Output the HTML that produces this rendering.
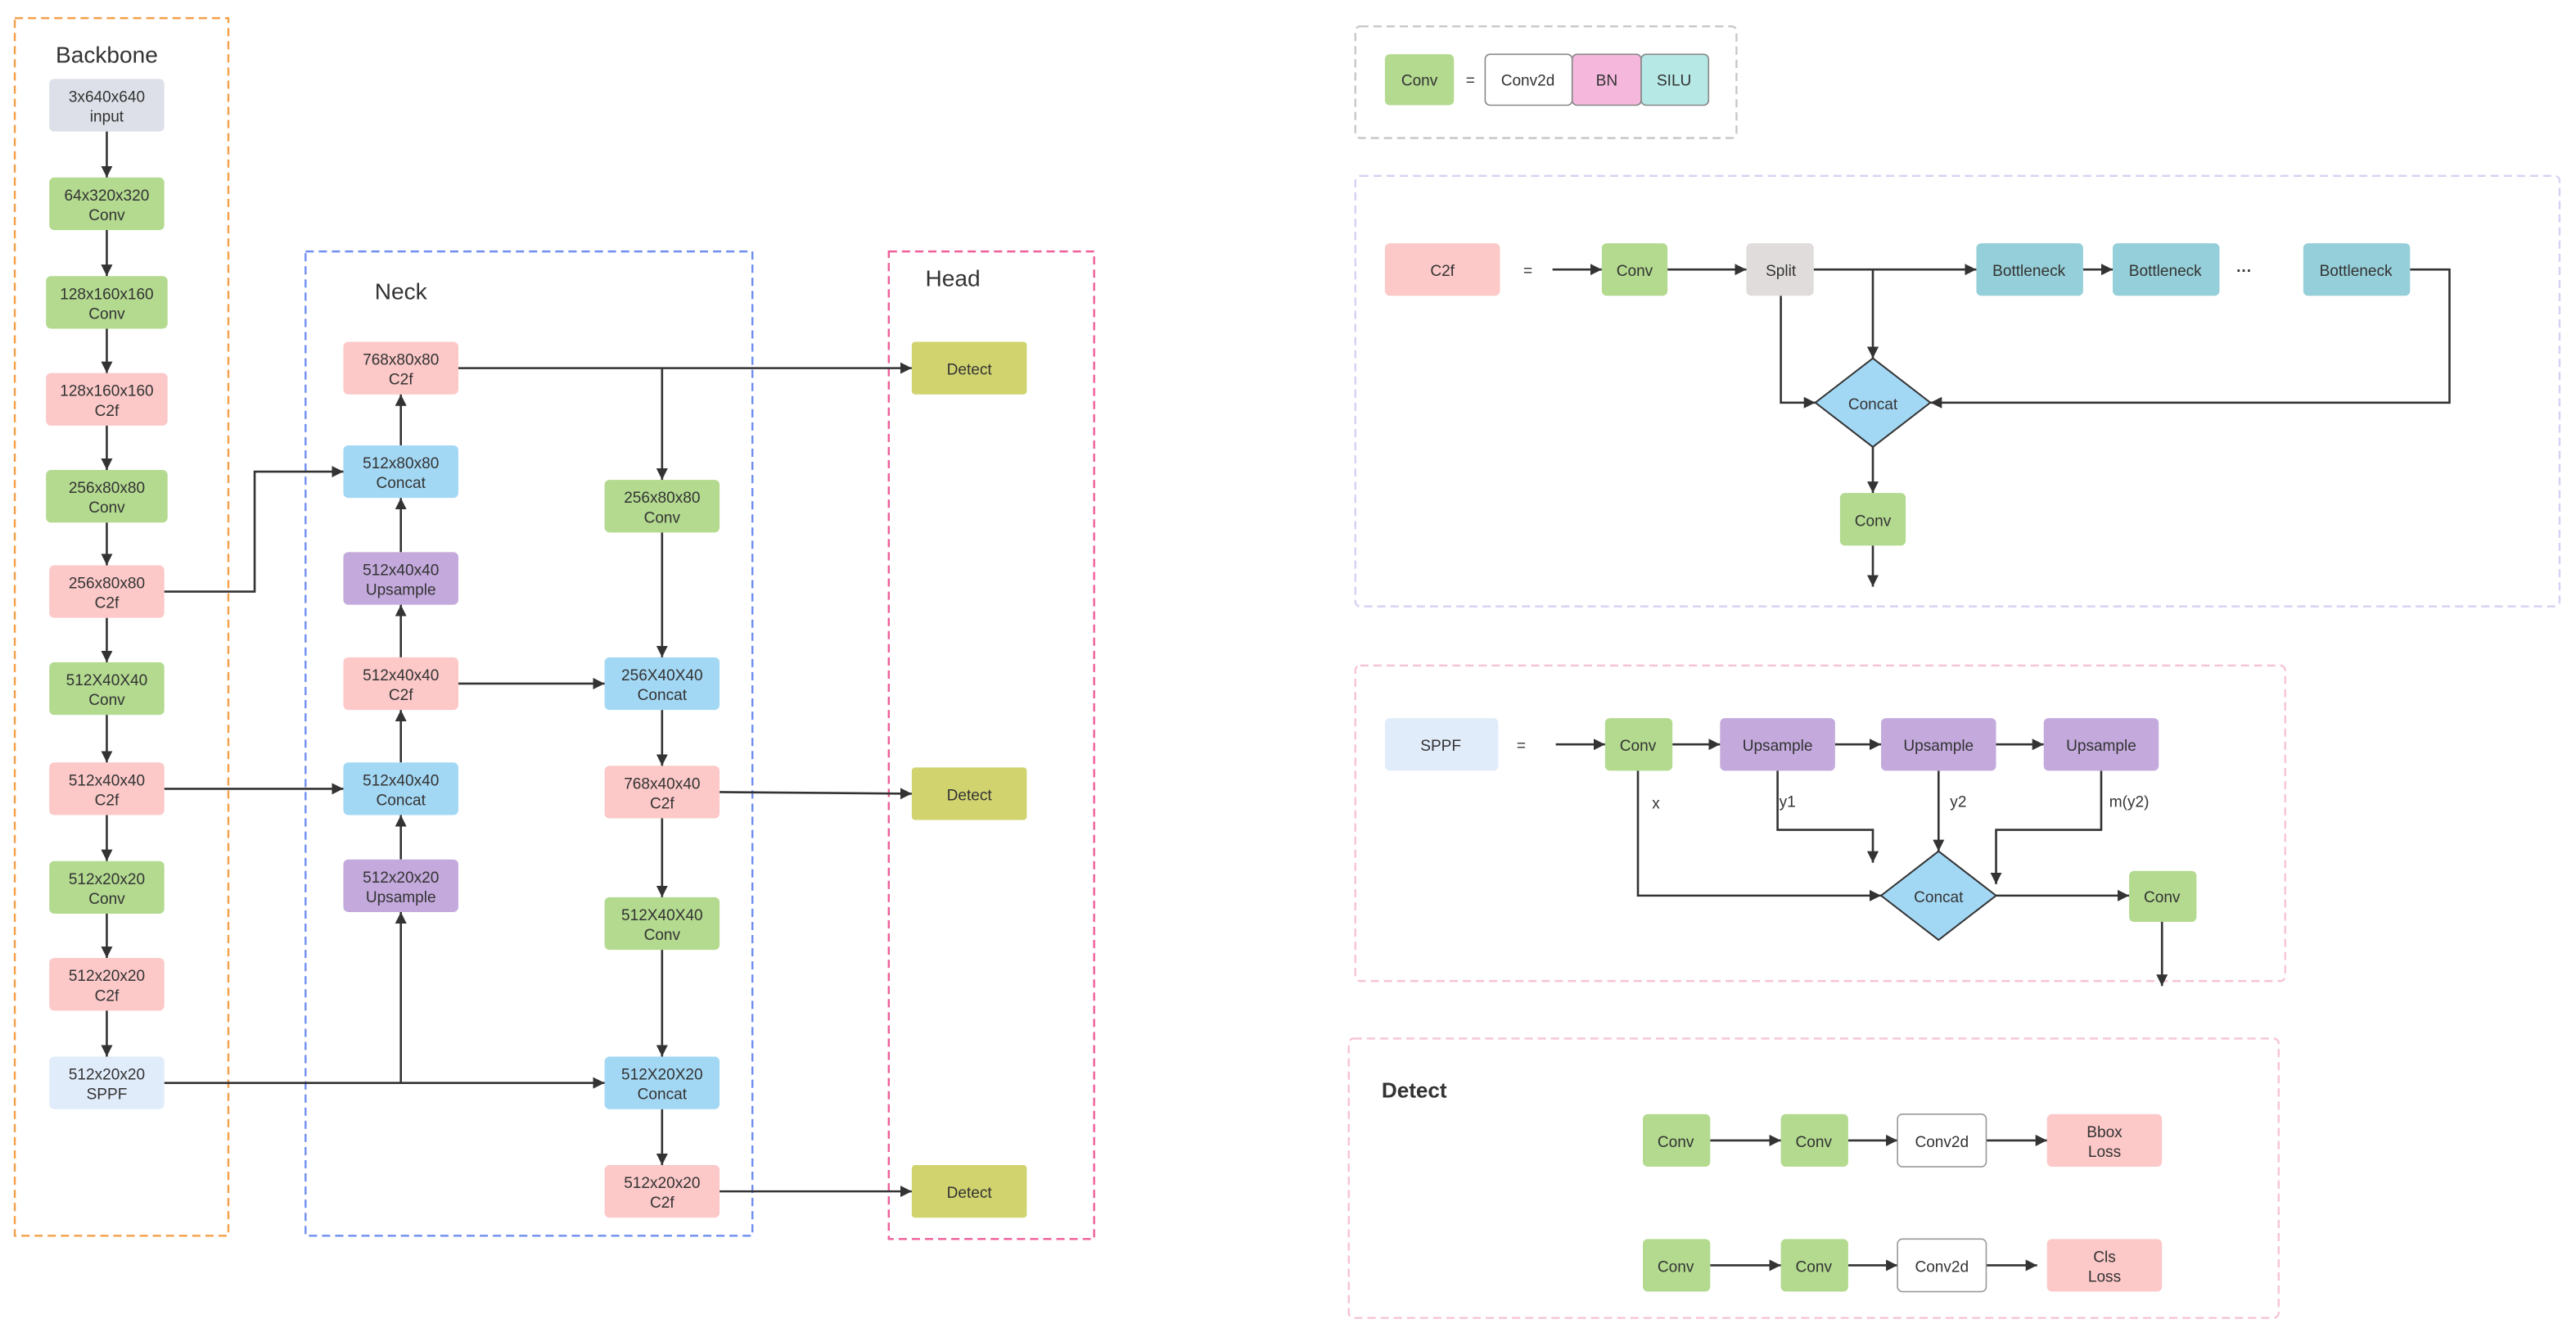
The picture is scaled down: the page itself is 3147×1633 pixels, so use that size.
<!DOCTYPE html>
<html><head><meta charset="utf-8"><style>
html,body{margin:0;padding:0;background:#fff;}
svg{display:block;}
text{font-family:"Liberation Sans",sans-serif;fill:#333;}
.t{font-size:9.5px;text-anchor:middle;}
.e{stroke:#333;stroke-width:1.3;fill:none;}
</style></head><body>
<svg width="3147" height="1633" viewBox="0 0 1568 813.6" xmlns="http://www.w3.org/2000/svg">
<defs><marker id="a" viewBox="0 0 10 10" refX="10" refY="5" markerWidth="7" markerHeight="7" markerUnits="userSpaceOnUse" orient="auto"><path d="M0,0L10,5L0,10z" fill="#333"/></marker></defs>
<g fill="none" stroke-width="1.2" stroke-dasharray="5,3">
<rect x="9" y="11" width="130" height="741" stroke="#f4a04a"/>
<rect x="186" y="153" width="272" height="599" stroke="#6f8ef0"/>
<rect x="541" y="153" width="125" height="601" stroke="#ee5f9a"/>
<rect x="825" y="16" width="232" height="68" stroke="#c8c8c8" rx="3"/>
<rect x="825" y="107" width="733" height="262" stroke="#d6d2f4" rx="3"/>
<rect x="825" y="405" width="566" height="192" stroke="#f7c4d6" rx="3"/>
<rect x="821" y="632" width="566" height="170" stroke="#f7c4d6" rx="3"/>
</g>
<text x="65" y="38" style="font-size:14px" text-anchor="middle">Backbone</text>
<text x="244" y="182" style="font-size:14px" text-anchor="middle">Neck</text>
<text x="580" y="174" style="font-size:14px" text-anchor="middle">Head</text>
<text x="841" y="668" style="font-size:13px;font-weight:bold">Detect</text>

<g class="e" marker-end="url(#a)">
<line x1="65" y1="80" x2="65" y2="108"/><line x1="65" y1="140" x2="65" y2="168"/><line x1="65" y1="200" x2="65" y2="227"/>
<line x1="65" y1="259" x2="65" y2="286"/><line x1="65" y1="318" x2="65" y2="344"/><line x1="65" y1="376" x2="65" y2="403"/>
<line x1="65" y1="435" x2="65" y2="464"/><line x1="65" y1="496" x2="65" y2="524"/><line x1="65" y1="556" x2="65" y2="583"/>
<line x1="65" y1="615" x2="65" y2="643"/>
<polyline points="100,360 155,360 155,287 209,287"/>
<line x1="100" y1="480" x2="209" y2="480"/>
<line x1="100" y1="659" x2="368" y2="659"/>
<polyline points="244,659 244,555"/>
<line x1="244" y1="523" x2="244" y2="496"/><line x1="244" y1="464" x2="244" y2="432"/>
<line x1="244" y1="400" x2="244" y2="368"/><line x1="244" y1="336" x2="244" y2="303"/>
<line x1="244" y1="271" x2="244" y2="240"/>
<line x1="279" y1="416" x2="368" y2="416"/>
<line x1="279" y1="224" x2="555" y2="224"/>
<line x1="403" y1="224" x2="403" y2="292"/>
<line x1="403" y1="324" x2="403" y2="400"/><line x1="403" y1="432" x2="403" y2="466"/>
<line x1="438" y1="482" x2="555" y2="483"/>
<line x1="403" y1="498" x2="403" y2="546"/><line x1="403" y1="578" x2="403" y2="643"/>
<line x1="403" y1="675" x2="403" y2="709"/><line x1="438" y1="725" x2="555" y2="725"/>
<!-- C2f -->
<line x1="945" y1="164" x2="975" y2="164"/><line x1="1015" y1="164" x2="1063" y2="164"/>
<line x1="1104" y1="164" x2="1203" y2="164"/><line x1="1268" y1="164" x2="1286" y2="164"/>
<line x1="1140" y1="164" x2="1140" y2="218"/>
<polyline points="1084,180 1084,245 1105,245"/>
<polyline points="1467,164 1491,164 1491,245 1175,245"/>
<line x1="1140" y1="272" x2="1140" y2="300"/><line x1="1140" y1="332" x2="1140" y2="357"/>
<!-- SPPF -->
<line x1="947" y1="453" x2="977" y2="453"/><line x1="1018" y1="453" x2="1047" y2="453"/>
<line x1="1117" y1="453" x2="1145" y2="453"/><line x1="1215" y1="453" x2="1244" y2="453"/>
<polyline points="997,469 997,545 1145,545"/>
<polyline points="1082,469 1082,505 1140,505 1140,525"/>
<line x1="1180" y1="469" x2="1180" y2="518"/>
<polyline points="1279,469 1279,505 1215,505 1215,538"/>
<line x1="1215" y1="545" x2="1296" y2="545"/>
<line x1="1316" y1="561" x2="1316" y2="600"/>
<!-- Detect -->
<line x1="1041" y1="694" x2="1084" y2="694"/><line x1="1125" y1="694" x2="1155" y2="694"/><line x1="1209" y1="694" x2="1246" y2="694"/>
<line x1="1041" y1="770" x2="1084" y2="770"/><line x1="1125" y1="770" x2="1155" y2="770"/><line x1="1209" y1="770" x2="1240" y2="770"/>
</g>

<g>
<!-- backbone -->
<rect x="30" y="48" width="70" height="32" rx="3" fill="#dde0e8"/><text class="t" x="65" y="62">3x640x640</text><text class="t" x="65" y="74">input</text>
<rect x="30" y="108" width="70" height="32" rx="3" fill="#b3da8f"/><text class="t" x="65" y="122">64x320x320</text><text class="t" x="65" y="134">Conv</text>
<rect x="28" y="168" width="74" height="32" rx="3" fill="#b3da8f"/><text class="t" x="65" y="182">128x160x160</text><text class="t" x="65" y="194">Conv</text>
<rect x="28" y="227" width="74" height="32" rx="3" fill="#fcc8c8"/><text class="t" x="65" y="241">128x160x160</text><text class="t" x="65" y="253">C2f</text>
<rect x="28" y="286" width="74" height="32" rx="3" fill="#b3da8f"/><text class="t" x="65" y="300">256x80x80</text><text class="t" x="65" y="312">Conv</text>
<rect x="30" y="344" width="70" height="32" rx="3" fill="#fcc8c8"/><text class="t" x="65" y="358">256x80x80</text><text class="t" x="65" y="370">C2f</text>
<rect x="30" y="403" width="70" height="32" rx="3" fill="#b3da8f"/><text class="t" x="65" y="417">512X40X40</text><text class="t" x="65" y="429">Conv</text>
<rect x="30" y="464" width="70" height="32" rx="3" fill="#fcc8c8"/><text class="t" x="65" y="478">512x40x40</text><text class="t" x="65" y="490">C2f</text>
<rect x="30" y="524" width="70" height="32" rx="3" fill="#b3da8f"/><text class="t" x="65" y="538">512x20x20</text><text class="t" x="65" y="550">Conv</text>
<rect x="30" y="583" width="70" height="32" rx="3" fill="#fcc8c8"/><text class="t" x="65" y="597">512x20x20</text><text class="t" x="65" y="609">C2f</text>
<rect x="30" y="643" width="70" height="32" rx="3" fill="#e1ecfb"/><text class="t" x="65" y="657">512x20x20</text><text class="t" x="65" y="669">SPPF</text>
<!-- neck left -->
<rect x="209" y="208" width="70" height="32" rx="3" fill="#fcc8c8"/><text class="t" x="244" y="222">768x80x80</text><text class="t" x="244" y="234">C2f</text>
<rect x="209" y="271" width="70" height="32" rx="3" fill="#a3d8f5"/><text class="t" x="244" y="285">512x80x80</text><text class="t" x="244" y="297">Concat</text>
<rect x="209" y="336" width="70" height="32" rx="3" fill="#c3a9dc"/><text class="t" x="244" y="350">512x40x40</text><text class="t" x="244" y="362">Upsample</text>
<rect x="209" y="400" width="70" height="32" rx="3" fill="#fcc8c8"/><text class="t" x="244" y="414">512x40x40</text><text class="t" x="244" y="426">C2f</text>
<rect x="209" y="464" width="70" height="32" rx="3" fill="#a3d8f5"/><text class="t" x="244" y="478">512x40x40</text><text class="t" x="244" y="490">Concat</text>
<rect x="209" y="523" width="70" height="32" rx="3" fill="#c3a9dc"/><text class="t" x="244" y="537">512x20x20</text><text class="t" x="244" y="549">Upsample</text>
<!-- neck right -->
<rect x="368" y="292" width="70" height="32" rx="3" fill="#b3da8f"/><text class="t" x="403" y="306">256x80x80</text><text class="t" x="403" y="318">Conv</text>
<rect x="368" y="400" width="70" height="32" rx="3" fill="#a3d8f5"/><text class="t" x="403" y="414">256X40X40</text><text class="t" x="403" y="426">Concat</text>
<rect x="368" y="466" width="70" height="32" rx="3" fill="#fcc8c8"/><text class="t" x="403" y="480">768x40x40</text><text class="t" x="403" y="492">C2f</text>
<rect x="368" y="546" width="70" height="32" rx="3" fill="#b3da8f"/><text class="t" x="403" y="560">512X40X40</text><text class="t" x="403" y="572">Conv</text>
<rect x="368" y="643" width="70" height="32" rx="3" fill="#a3d8f5"/><text class="t" x="403" y="657">512X20X20</text><text class="t" x="403" y="669">Concat</text>
<rect x="368" y="709" width="70" height="32" rx="3" fill="#fcc8c8"/><text class="t" x="403" y="723">512x20x20</text><text class="t" x="403" y="735">C2f</text>
<!-- head -->
<rect x="555" y="208" width="70" height="32" rx="2" fill="#d0d36e"/><text class="t" x="590" y="228">Detect</text>
<rect x="555" y="467" width="70" height="32" rx="2" fill="#d0d36e"/><text class="t" x="590" y="487">Detect</text>
<rect x="555" y="709" width="70" height="32" rx="2" fill="#d0d36e"/><text class="t" x="590" y="729">Detect</text>
<!-- conv legend -->
<rect x="843" y="33" width="42" height="31" rx="3" fill="#b3da8f"/><text class="t" x="864" y="52">Conv</text>
<text class="t" x="895" y="52">=</text>
<rect x="904" y="33" width="53" height="31" rx="3" fill="#fff" stroke="#888" stroke-width="0.8"/><text class="t" x="930" y="52">Conv2d</text>
<rect x="957" y="33" width="42" height="31" rx="3" fill="#f5b8dc" stroke="#888" stroke-width="0.8"/><text class="t" x="978" y="52">BN</text>
<rect x="999" y="33" width="41" height="31" rx="3" fill="#b6e8e6" stroke="#888" stroke-width="0.8"/><text class="t" x="1019" y="52">SILU</text>
<!-- C2f detail -->
<rect x="843" y="148" width="70" height="32" rx="3" fill="#fcc8c8"/><text class="t" x="878" y="168">C2f</text>
<text class="t" x="930" y="168">=</text>
<rect x="975" y="148" width="40" height="32" rx="3" fill="#b3da8f"/><text class="t" x="995" y="168">Conv</text>
<rect x="1063" y="148" width="41" height="32" rx="3" fill="#e0dcdc"/><text class="t" x="1084" y="168">Split</text>
<rect x="1203" y="148" width="65" height="32" rx="3" fill="#95cfd9"/><text class="t" x="1235" y="168">Bottleneck</text>
<rect x="1286" y="148" width="65" height="32" rx="3" fill="#95cfd9"/><text class="t" x="1318" y="168">Bottleneck</text>
<text class="t" x="1366" y="168" style="font-weight:bold">···</text>
<rect x="1402" y="148" width="65" height="32" rx="3" fill="#95cfd9"/><text class="t" x="1434" y="168">Bottleneck</text>
<polygon points="1140,218 1175,245 1140,272 1105,245" fill="#a3d8f5" stroke="#333" stroke-width="1"/><text class="t" x="1140" y="249">Concat</text>
<rect x="1120" y="300" width="40" height="32" rx="3" fill="#b3da8f"/><text class="t" x="1140" y="320">Conv</text>
<!-- SPPF detail -->
<rect x="843" y="437" width="69" height="32" rx="3" fill="#e1ecfb"/><text class="t" x="877" y="457">SPPF</text>
<text class="t" x="926" y="457">=</text>
<rect x="977" y="437" width="41" height="32" rx="3" fill="#b3da8f"/><text class="t" x="997" y="457">Conv</text>
<rect x="1047" y="437" width="70" height="32" rx="3" fill="#c3a9dc"/><text class="t" x="1082" y="457">Upsample</text>
<rect x="1145" y="437" width="70" height="32" rx="3" fill="#c3a9dc"/><text class="t" x="1180" y="457">Upsample</text>
<rect x="1244" y="437" width="70" height="32" rx="3" fill="#c3a9dc"/><text class="t" x="1279" y="457">Upsample</text>
<text class="t" x="1008" y="492">x</text><text class="t" x="1088" y="491">y1</text><text class="t" x="1192" y="491">y2</text><text class="t" x="1296" y="491">m(y2)</text>
<polygon points="1180,518 1215,545 1180,572 1145,545" fill="#a3d8f5" stroke="#333" stroke-width="1"/><text class="t" x="1180" y="549">Concat</text>
<rect x="1296" y="530" width="41" height="31" rx="3" fill="#b3da8f"/><text class="t" x="1316" y="549">Conv</text>
<!-- Detect detail -->
<rect x="1000" y="678" width="41" height="32" rx="3" fill="#b3da8f"/><text class="t" x="1020" y="698">Conv</text>
<rect x="1084" y="678" width="41" height="32" rx="3" fill="#b3da8f"/><text class="t" x="1104" y="698">Conv</text>
<rect x="1155" y="678" width="54" height="32" rx="3" fill="#fff" stroke="#999" stroke-width="0.8"/><text class="t" x="1182" y="698">Conv2d</text>
<rect x="1246" y="678" width="70" height="32" rx="3" fill="#fcc8c8"/><text class="t" x="1281" y="692">Bbox</text><text class="t" x="1281" y="704">Loss</text>
<rect x="1000" y="754" width="41" height="32" rx="3" fill="#b3da8f"/><text class="t" x="1020" y="774">Conv</text>
<rect x="1084" y="754" width="41" height="32" rx="3" fill="#b3da8f"/><text class="t" x="1104" y="774">Conv</text>
<rect x="1155" y="754" width="54" height="32" rx="3" fill="#fff" stroke="#999" stroke-width="0.8"/><text class="t" x="1182" y="774">Conv2d</text>
<rect x="1246" y="754" width="70" height="32" rx="3" fill="#fcc8c8"/><text class="t" x="1281" y="768">Cls</text><text class="t" x="1281" y="780">Loss</text>
</g>
</svg>
</body></html>
